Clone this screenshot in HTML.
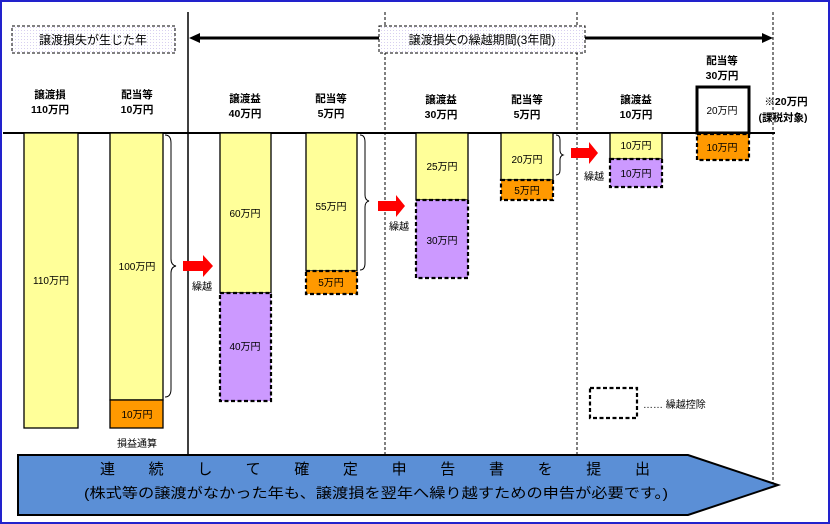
<!DOCTYPE html>
<html><head><meta charset="utf-8"><style>
html,body{margin:0;padding:0;background:#fff}
svg{display:block}
text{font-family:"Liberation Sans","Noto Sans CJK JP",sans-serif;font-size:10px;fill:#000;text-anchor:middle}
.b{font-weight:bold;font-size:10.5px}
</style></head><body>
<svg width="830" height="524" viewBox="0 0 830 524" xmlns="http://www.w3.org/2000/svg">
<defs><pattern id="dots" width="3" height="3" patternUnits="userSpaceOnUse"><rect width="3" height="3" fill="#fff"/><rect width="1" height="1" fill="#d8d0f0"/></pattern></defs>
<rect x="1" y="1" width="828" height="522" fill="#fff" stroke="#2222cc" stroke-width="2"/>
<line x1="188" y1="12" x2="188" y2="455" stroke="#000" stroke-width="1.5"/>
<line x1="385" y1="12" x2="385" y2="455" stroke="#000" stroke-dasharray="3,2"/>
<line x1="577" y1="12" x2="577" y2="455" stroke="#000" stroke-dasharray="3,2"/>
<line x1="773" y1="12" x2="773" y2="485" stroke="#000" stroke-dasharray="3,2"/>
<rect x="12" y="26" width="163" height="27" fill="url(#dots)" stroke="#000" stroke-dasharray="3,2"/>
<text x="93" y="44" style="font-size:12px">譲渡損失が生じた年</text>
<line x1="198" y1="38" x2="379" y2="38" stroke="#000" stroke-width="3"/>
<line x1="585" y1="38" x2="762" y2="38" stroke="#000" stroke-width="3"/>
<polygon points="189,38 200,33 200,43"/>
<polygon points="773,38 762,33 762,43"/>
<rect x="379" y="26" width="206" height="27" fill="url(#dots)" stroke="#000" stroke-dasharray="3,2"/>
<text x="482" y="44" style="font-size:12px">譲渡損失の繰越期間(3年間)</text>
<text class="b" x="50" y="98">譲渡損</text><text class="b" x="50" y="113">110万円</text>
<text class="b" x="137" y="98">配当等</text><text class="b" x="137" y="113">10万円</text>
<text class="b" x="245" y="102">譲渡益</text><text class="b" x="245" y="117">40万円</text>
<text class="b" x="331" y="102">配当等</text><text class="b" x="331" y="117">5万円</text>
<text class="b" x="441" y="103">譲渡益</text><text class="b" x="441" y="118">30万円</text>
<text class="b" x="527" y="103">配当等</text><text class="b" x="527" y="118">5万円</text>
<text class="b" x="636" y="103">譲渡益</text><text class="b" x="636" y="118">10万円</text>
<text class="b" x="722" y="64">配当等</text><text class="b" x="722" y="79">30万円</text>
<text class="b" x="786" y="105">※20万円</text><text class="b" x="783" y="121">(課税対象)</text>
<line x1="3" y1="133" x2="775" y2="133" stroke="#000" stroke-width="2"/>
<g stroke="#000" stroke-width="1.3">
<rect x="24" y="133" width="54" height="295" fill="#ffff99"/>
<rect x="110" y="133" width="53" height="267" fill="#ffff99"/>
<rect x="110" y="400" width="53" height="28" fill="#ff9900"/>
<rect x="220" y="133" width="51" height="160" fill="#ffff99"/>
<rect x="306" y="133" width="51" height="138" fill="#ffff99"/>
<rect x="416" y="133" width="52" height="67" fill="#ffff99"/>
<rect x="501" y="133" width="52" height="47" fill="#ffff99"/>
<rect x="610" y="133" width="52" height="26" fill="#ffff99"/>
<rect x="697" y="87" width="52" height="46" fill="#fff" stroke-width="3"/>
</g>
<g stroke="#000" stroke-width="2.2" stroke-dasharray="4,2.5">
<rect x="220" y="293" width="51" height="108" fill="#cc99ff"/>
<rect x="306" y="271" width="51" height="23" fill="#ff9900"/>
<rect x="416" y="200" width="52" height="78" fill="#cc99ff"/>
<rect x="501" y="180" width="52" height="20" fill="#ff9900"/>
<rect x="610" y="159" width="52" height="28" fill="#cc99ff"/>
<rect x="697" y="134" width="52" height="26" fill="#ff9900"/>
<rect x="590" y="388" width="47" height="30" fill="#fff"/>
</g>
<text x="51" y="284">110万円</text>
<text x="137" y="270">100万円</text><text x="137" y="418">10万円</text>
<text x="245" y="217">60万円</text><text x="245" y="350">40万円</text>
<text x="331" y="210">55万円</text><text x="331" y="286">5万円</text>
<text x="442" y="170">25万円</text><text x="442" y="244">30万円</text>
<text x="527" y="163">20万円</text><text x="527" y="194">5万円</text>
<text x="636" y="149">10万円</text><text x="636" y="177">10万円</text>
<text x="722" y="114">20万円</text><text x="722" y="151">10万円</text>
<text x="137" y="447">損益通算</text>
<text x="643" y="408" style="text-anchor:start">…… 繰越控除</text>
<g fill="none" stroke="#000" stroke-width="1">
<path d="M165,135 q6,0 6,8 v116 q0,6 5,7 q-5,1 -5,7 v116 q0,8 -6,8"/>
<path d="M360,135 q5,0 5,7 v53 q0,5 4,6 q-4,1 -4,6 v56 q0,7 -5,7"/>
<path d="M556,135 q4,0 4,5 v10 q0,4 3,5 q-3,1 -3,5 v10 q0,5 -4,5"/>
</g>
<g fill="#ff0000">
<polygon points="183,261 203,261 203,255 213,266 203,277 203,271 183,271"/>
<polygon points="378,201 396,201 396,195 405,206 396,217 396,211 378,211"/>
<polygon points="571,148 589,148 589,142 598,153 589,164 589,158 571,158"/>
</g>
<text x="202" y="290">繰越</text>
<text x="399" y="230">繰越</text>
<text x="594" y="180">繰越</text>
<polygon points="18,455 688,455 778,485 688,515 18,515" fill="#5b8fd6" stroke="#000" stroke-width="2"/>
<text x="100" y="474" style="font-size:15px;text-anchor:start" textLength="550" lengthAdjust="spacing">連続して確定申告書を提出</text>
<text x="84" y="498" style="font-size:14px;text-anchor:start" textLength="584" lengthAdjust="spacingAndGlyphs">(株式等の譲渡がなかった年も、譲渡損を翌年へ繰り越すための申告が必要です。)</text>
</svg>
</body></html>
